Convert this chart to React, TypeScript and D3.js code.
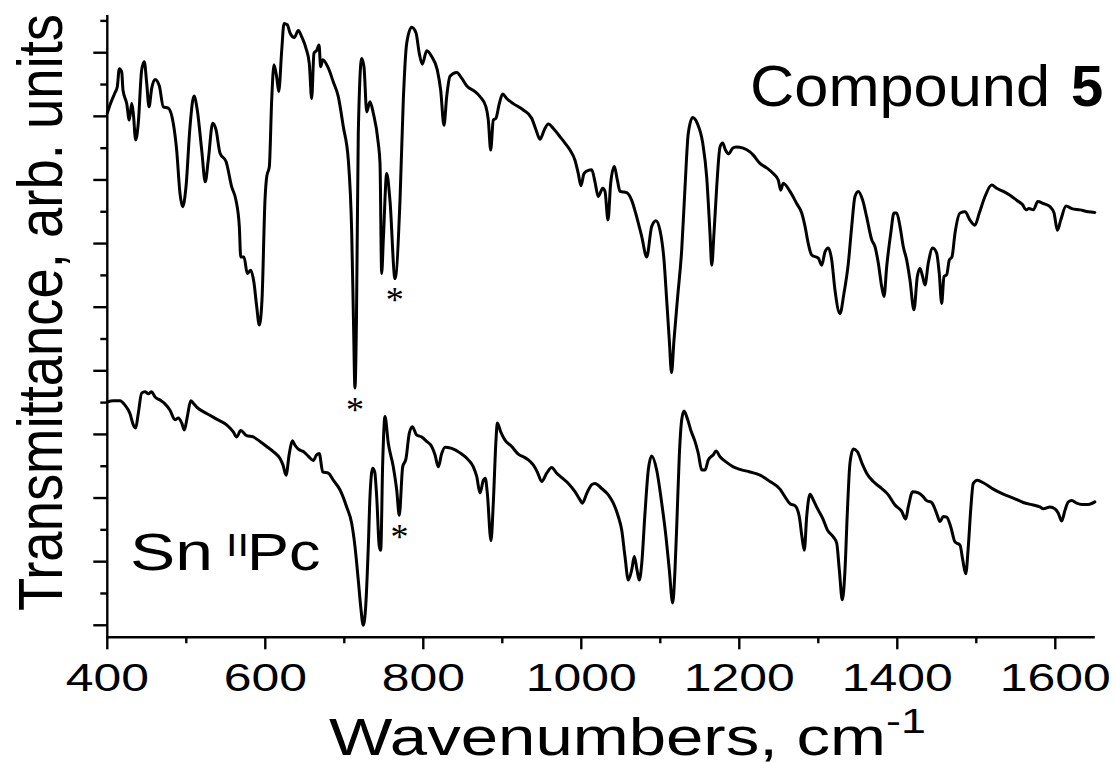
import React from "react";
import * as d3 from "d3";

// [wavenumber (cm-1), transmittance (arb. units)]
const compound5Spectrum: [number, number][] = [
  [400, 8.05], [403.4, 8.18], [409.7, 8.37], [412.7, 8.47], [415.2, 8.75], [418.2, 8.7], [419.9, 8.41],
  [424.6, 8.2], [427.8, 7.94], [430.9, 8.2], [432.9, 8.05], [435.9, 7.63], [439.2, 7.89], [443.5, 8.73],
  [446.8, 8.86], [449.9, 8.52], [452.8, 8.15], [456.2, 8.44], [460.4, 8.58], [465.8, 8.48], [470.9, 8.15],
  [477.2, 8.13], [483.5, 7.89], [487.8, 7.47], [492.0, 6.79], [495.4, 6.58], [499.6, 6.89], [504.7, 7.84],
  [509.7, 8.32], [513.9, 8.1], [519.5, 7.47], [524.0, 6.97], [527.8, 7.31], [533.4, 7.89], [537.6, 7.79],
  [542.7, 7.42], [550.3, 7.29], [557.5, 6.89], [562.9, 6.68], [567.1, 6.27], [568.9, 5.79], [573.0, 5.79],
  [577.2, 5.53], [581.5, 5.58], [585.7, 5.38], [589.1, 5.01], [592.4, 4.72], [595.8, 5.11], [599.6, 6.68],
  [601.8, 7.05], [605.1, 7.21], [608.1, 8.26], [611.0, 8.81], [614.4, 8.62], [617.0, 8.39], [620.8, 9.04],
  [623.7, 9.46], [627.8, 9.44], [631.3, 9.31], [636.7, 9.24], [641.8, 9.35], [646.1, 9.25], [651.5, 9.07],
  [655.7, 8.83], [658.7, 8.28], [661.6, 8.99], [665.1, 9.04], [668.0, 9.12], [670.1, 8.78], [672.7, 8.89],
  [679.7, 8.76], [686.1, 8.54], [692.4, 8.31], [698.7, 7.84], [705.1, 7.31], [709.4, 6.16], [711.6, 4.8],
  [713.5, 3.73], [715.4, 4.8], [717.7, 7.73], [722.0, 8.91], [724.9, 8.78], [728.4, 8.07], [732.5, 8.23],
  [736.7, 8.05], [743.0, 7.58], [745.2, 7.26], [747.3, 5.53], [749.4, 6.06], [753.7, 7.1], [757.8, 6.68],
  [764.2, 5.45], [770.5, 6.68], [774.7, 8.26], [779.0, 9.15], [785.3, 9.4], [790.8, 9.31], [794.9, 8.99],
  [798.7, 8.82], [804.3, 9.03], [810.6, 8.94], [817.7, 8.73], [822.0, 8.41], [826.2, 7.86], [829.6, 8.31],
  [833.8, 8.63], [842.3, 8.69], [848.6, 8.6], [854.9, 8.48], [865.4, 8.39], [871.8, 8.31], [879.3, 8.15],
  [882.3, 7.94], [885.3, 7.47], [888.6, 7.94], [892.0, 7.97], [896.2, 8.2], [900.5, 8.35], [905.6, 8.28],
  [913.9, 8.2], [926.6, 8.1], [937.2, 7.97], [942.6, 7.79], [947.7, 7.64], [953.2, 7.79], [958.2, 7.88],
  [964.6, 7.81], [973.0, 7.68], [979.4, 7.58], [985.7, 7.47], [992.0, 7.31], [996.2, 7.1], [999.6, 6.91],
  [1003.4, 7.1], [1008.8, 7.15], [1013.2, 7.16], [1017.3, 6.97], [1021.5, 6.74], [1027.1, 6.87], [1030.0, 6.82],
  [1033.8, 6.37], [1037.2, 6.95], [1041.8, 7.21], [1045.6, 7.0], [1049.0, 6.82], [1057.5, 6.8], [1063.8, 6.68],
  [1070.1, 6.42], [1076.5, 6.11], [1082.8, 5.79], [1089.1, 6.27], [1094.5, 6.36], [1099.6, 6.21], [1104.7, 5.74],
  [1108.1, 5.11], [1111.4, 4.48], [1114.2, 3.97], [1117.3, 4.48], [1122.0, 5.17], [1127.1, 5.9], [1131.3, 6.89],
  [1135.4, 7.73], [1141.0, 7.98], [1146.8, 7.89], [1153.7, 7.58], [1158.7, 7.05], [1162.9, 6.16], [1165.1, 5.66],
  [1168.0, 6.17], [1171.4, 6.89], [1175.6, 7.52], [1179.0, 7.58], [1182.5, 7.47], [1186.5, 7.41], [1191.6, 7.5],
  [1195.8, 7.52], [1205.0, 7.5], [1213.5, 7.44], [1217.7, 7.39], [1226.2, 7.26], [1234.6, 7.19], [1243.0, 7.1],
  [1249.3, 7.0], [1252.4, 6.84], [1255.7, 6.95], [1264.2, 6.82], [1272.6, 6.63], [1279.0, 6.48], [1283.2, 6.27],
  [1287.3, 6.0], [1291.6, 5.82], [1300.0, 5.77], [1304.3, 5.66], [1308.5, 5.87], [1312.6, 5.93], [1317.0, 5.74],
  [1321.1, 5.27], [1327.4, 4.9], [1332.5, 5.22], [1338.0, 5.69], [1342.3, 6.27], [1346.4, 6.74], [1350.6, 6.82],
  [1356.2, 6.68], [1361.2, 6.42], [1367.6, 6.06], [1371.8, 5.95], [1376.0, 5.69], [1380.3, 5.32], [1383.2, 5.17],
  [1386.6, 5.64], [1391.7, 6.16], [1395.8, 6.48], [1399.2, 6.48], [1403.4, 6.27], [1407.6, 5.95], [1411.9, 5.74],
  [1416.0, 5.43], [1421.1, 4.96], [1425.3, 5.48], [1428.7, 5.61], [1432.1, 5.48], [1435.0, 5.35], [1439.2, 5.69],
  [1444.8, 5.93], [1449.8, 5.85], [1453.1, 5.53], [1456.2, 5.06], [1459.1, 5.48], [1462.5, 5.51], [1465.8, 5.74],
  [1469.2, 5.79], [1473.0, 6.16], [1479.4, 6.48], [1485.7, 6.5], [1492.0, 6.37], [1498.3, 6.29], [1503.8, 6.48],
  [1511.0, 6.74], [1519.5, 6.92], [1525.8, 6.87], [1534.2, 6.82], [1542.6, 6.76], [1551.1, 6.68], [1558.7, 6.61],
  [1562.9, 6.53], [1566.7, 6.55], [1572.2, 6.53], [1577.8, 6.66], [1584.8, 6.63], [1593.3, 6.58], [1598.4, 6.48],
  [1602.6, 6.21], [1606.9, 6.37], [1613.6, 6.59], [1620.9, 6.55], [1631.4, 6.53], [1641.8, 6.5], [1650, 6.49],
];

const snPcSpectrum: [number, number][] = [
  [400, 3.51], [407.6, 3.53], [416.1, 3.53], [422.4, 3.46], [428.7, 3.33], [432.9, 3.15], [435.9, 3.1],
  [439.2, 3.33], [443.5, 3.65], [447.7, 3.67], [451.9, 3.64], [456.2, 3.67], [460.4, 3.59], [466.7, 3.54],
  [473.0, 3.48], [479.4, 3.38], [485.7, 3.23], [489.9, 3.26], [494.2, 3.18], [497.5, 3.07], [501.3, 3.28],
  [505.6, 3.53], [508.9, 3.49], [513.2, 3.43], [525.8, 3.33], [538.5, 3.24], [551.1, 3.15], [559.5, 3.04],
  [563.8, 2.96], [568.9, 3.06], [576.5, 2.98], [584.8, 2.96], [593.3, 2.89], [601.8, 2.81], [610.1, 2.73],
  [618.6, 2.62], [622.4, 2.52], [626.2, 2.36], [630.4, 2.7], [634.2, 2.9], [637.6, 2.83], [641.8, 2.77],
  [648.1, 2.73], [654.4, 2.66], [660.7, 2.59], [665.0, 2.68], [668.3, 2.7], [672.7, 2.41], [679.7, 2.39],
  [686.1, 2.28], [694.5, 2.13], [703.0, 1.86], [709.4, 1.6], [713.5, 1.24], [717.7, 0.71], [720.8, 0.29],
  [724.0, 0.0], [727.1, 0.3], [730.4, 1.24], [732.5, 2.02], [735.9, 2.47], [738.5, 2.41], [741.0, 2.02],
  [744.3, 1.24], [746.1, 1.18], [748.6, 2.55], [751.5, 3.28], [755.7, 2.86], [762.0, 2.49], [766.3, 2.13],
  [769.6, 1.73], [773.9, 2.49], [778.1, 2.62], [782.3, 3.02], [786.1, 3.12], [791.6, 2.99], [798.0, 2.96],
  [804.3, 2.89], [810.6, 2.81], [814.8, 2.68], [819.0, 2.49], [823.3, 2.7], [827.5, 2.8], [835.9, 2.78],
  [846.5, 2.71], [857.0, 2.6], [863.3, 2.49], [867.6, 2.34], [871.8, 2.08], [876.0, 2.28], [878.5, 2.31],
  [881.0, 2.08], [885.7, 1.33], [888.6, 1.92], [892.0, 2.91], [893.7, 3.18], [898.0, 3.04], [903.4, 2.91],
  [911.9, 2.81], [920.2, 2.69], [926.6, 2.65], [932.9, 2.6], [939.2, 2.52], [944.3, 2.41], [949.9, 2.26],
  [956.2, 2.39], [962.5, 2.48], [968.9, 2.39], [975.2, 2.32], [983.6, 2.23], [992.0, 2.1], [998.4, 1.97],
  [1001.3, 1.92], [1006.8, 2.07], [1013.2, 2.21], [1017.3, 2.23], [1025.8, 2.15], [1034.2, 2.05], [1040.5, 1.92],
  [1046.8, 1.71], [1051.1, 1.5], [1055.3, 1.08], [1059.5, 0.71], [1063.8, 0.87], [1067.1, 1.08], [1070.5, 0.87],
  [1073.4, 0.71], [1076.5, 0.97], [1080.6, 1.76], [1084.8, 2.44], [1089.1, 2.66], [1095.4, 2.44], [1101.8, 1.92],
  [1107.2, 1.39], [1111.4, 0.87], [1115.7, 0.35], [1118.6, 0.87], [1121.1, 1.66], [1124.0, 2.65], [1127.1, 3.23],
  [1130.0, 3.37], [1134.2, 3.25], [1138.5, 3.07], [1143.9, 2.89], [1148.1, 2.7], [1152.4, 2.44], [1156.6, 2.44],
  [1160.8, 2.6], [1167.1, 2.68], [1170.5, 2.74], [1175.6, 2.65], [1184.0, 2.56], [1192.4, 2.49], [1200.9, 2.45],
  [1213.5, 2.41], [1226.2, 2.36], [1238.9, 2.26], [1251.5, 2.14], [1257.8, 2.02], [1264.2, 1.91], [1270.5, 1.88],
  [1275.9, 1.71], [1279.3, 1.39], [1282.3, 1.18], [1285.3, 1.71], [1289.5, 2.06], [1293.7, 1.97], [1298.7, 1.84],
  [1305.6, 1.68], [1311.4, 1.5], [1319.0, 1.39], [1323.3, 1.29], [1326.6, 0.87], [1330.4, 0.4], [1333.8, 0.87],
  [1336.7, 1.76], [1340.1, 2.55], [1344.3, 2.77], [1349.4, 2.73], [1356.2, 2.52], [1361.2, 2.39], [1369.6, 2.26],
  [1380.2, 2.15], [1388.6, 2.05], [1397.1, 1.89], [1405.6, 1.79], [1410.6, 1.67], [1413.9, 1.86], [1419.5, 2.1],
  [1426.6, 2.08], [1432.1, 2.03], [1437.2, 1.96], [1443.5, 1.93], [1449.8, 1.76], [1454.0, 1.63], [1458.2, 1.71],
  [1462.5, 1.7], [1467.6, 1.55], [1473.0, 1.31], [1479.4, 1.26], [1482.8, 1.03], [1486.6, 0.81], [1489.9, 1.24],
  [1492.9, 1.81], [1496.2, 2.23], [1501.3, 2.28], [1508.9, 2.24], [1521.5, 2.14], [1534.2, 2.06], [1546.8, 2.0],
  [1559.5, 1.93], [1572.2, 1.89], [1580.6, 1.86], [1584.8, 1.83], [1593.3, 1.86], [1599.6, 1.83], [1603.8, 1.76],
  [1608.1, 1.64], [1612.3, 1.81], [1616.5, 1.94], [1620.8, 1.96], [1627.1, 1.92], [1633.4, 1.9], [1641.8, 1.9],
  [1650, 1.94],
];

// asterisk marks: [wavenumber, transmittance at mark centre]
const asteriskMarks: [number, number][] = [
  [713.5, 3.46],
  [764, 5.19],
  [770, 1.47],
];

const xMajorTicks = [400, 600, 800, 1000, 1200, 1400, 1600];
const xMinorTicks = [500, 700, 900, 1100, 1300, 1500];
const yMajorTicks = [0, 1, 2, 3, 4, 5, 6, 7, 8, 9];
const yMinorTicks = [0.5, 1.5, 2.5, 3.5, 4.5, 5.5, 6.5, 7.5, 8.5, 9.5];

const xDomain: [number, number] = [400, 1650];
const yDomain: [number, number] = [-0.189, 9.593];

const SANS = "'Liberation Sans', Arial, Helvetica, sans-serif";
const SERIF = "'Liberation Serif', 'Times New Roman', serif";

export default function App() {
  const W = 1116;
  const H = 762;
  const left = 107.3;
  const right = 1094.8;
  const top = 15;
  const bottom = 637.3;

  const x = d3.scaleLinear().domain(xDomain).range([left, right]);
  const y = d3.scaleLinear().domain(yDomain).range([bottom, top]);

  const line = d3
    .line<[number, number]>()
    .x((d) => x(d[0]))
    .y((d) => y(d[1]))
    .curve(d3.curveMonotoneX);

  const axisW = 2.4;
  const curveW = 3;

  return (
    <div style={{ position: "absolute", left: 0, top: 0 }}>
      <svg width={W} height={H} style={{ display: "block", background: "#fff" }}>
        <rect x={0} y={0} width={W} height={H} fill="#fff" />
        {/* spectra */}
        <path d={line(compound5Spectrum) || ""} fill="none" stroke="#000" strokeWidth={curveW} strokeLinejoin="round" strokeLinecap="round" />
        <path d={line(snPcSpectrum) || ""} fill="none" stroke="#000" strokeWidth={curveW} strokeLinejoin="round" strokeLinecap="round" />

        {/* axes */}
        <line x1={left} x2={left} y1={top} y2={bottom + axisW / 2} stroke="#000" strokeWidth={axisW} />
        <line x1={left - axisW / 2} x2={right} y1={bottom} y2={bottom} stroke="#000" strokeWidth={axisW} />
        {xMajorTicks.map((t) => (
          <line key={"xM" + t} x1={x(t)} x2={x(t)} y1={bottom} y2={bottom + 12} stroke="#000" strokeWidth={axisW} />
        ))}
        {xMinorTicks.map((t) => (
          <line key={"xm" + t} x1={x(t)} x2={x(t)} y1={bottom} y2={bottom + 6} stroke="#000" strokeWidth={axisW} />
        ))}
        {yMajorTicks.map((t) => (
          <line key={"yM" + t} x1={left - 14} x2={left} y1={y(t)} y2={y(t)} stroke="#000" strokeWidth={axisW} />
        ))}
        {yMinorTicks.map((t) => (
          <line key={"ym" + t} x1={left - 7} x2={left} y1={y(t)} y2={y(t)} stroke="#000" strokeWidth={axisW} />
        ))}

        {/* x tick labels */}
        {xMajorTicks.map((t) => (
          <text
            key={"xl" + t}
            transform={`translate(${x(t)},690.7) scale(1.28,1)`}
            textAnchor="middle"
            fontFamily={SANS}
            fontSize={39}
            fill="#000"
          >
            {t}
          </text>
        ))}

        {/* x axis title */}
        <text x={329} y={755} fontFamily={SANS} fontSize={51} textLength={557} lengthAdjust="spacingAndGlyphs" fill="#000">
          Wavenumbers, cm
        </text>
        <text transform="translate(886,732.5) scale(1.28,1)" fontFamily={SANS} fontSize={35} fill="#000">
          -1
        </text>

        {/* y axis title */}
        <text
          transform="translate(62,312.5) rotate(-90)"
          textAnchor="middle"
          fontFamily={SANS}
          fontSize={63}
          textLength={597}
          lengthAdjust="spacingAndGlyphs"
          fill="#000"
        >
          Transmittance, arb. units
        </text>

        {/* labels */}
        <text x={750} y={106} fontFamily={SANS} fontSize={58} textLength={300} lengthAdjust="spacingAndGlyphs" fill="#000">
          Compound
        </text>
        <text x={1071} y={106} fontFamily={SANS} fontSize={58} fontWeight="bold" fill="#000">
          5
        </text>
        <text x={130} y={570} fontFamily={SANS} fontSize={51} textLength={83} lengthAdjust="spacingAndGlyphs" fill="#000">
          Sn
        </text>
        <text x={226} y={556} fontFamily={SANS} fontSize={32} textLength={23} lengthAdjust="spacingAndGlyphs" fill="#000">
          II
        </text>
        <text x={247} y={570} fontFamily={SANS} fontSize={51} textLength={73.5} lengthAdjust="spacingAndGlyphs" fill="#000">
          Pc
        </text>

        {/* asterisks */}
        {asteriskMarks.map((m, i) => (
          <text
            key={"ast" + i}
            x={x(m[0])}
            y={y(m[1]) + 17}
            textAnchor="middle"
            fontFamily={SERIF}
            fontSize={36}
            fill="#000"
          >
            *
          </text>
        ))}
      </svg>
    </div>
  );
}
